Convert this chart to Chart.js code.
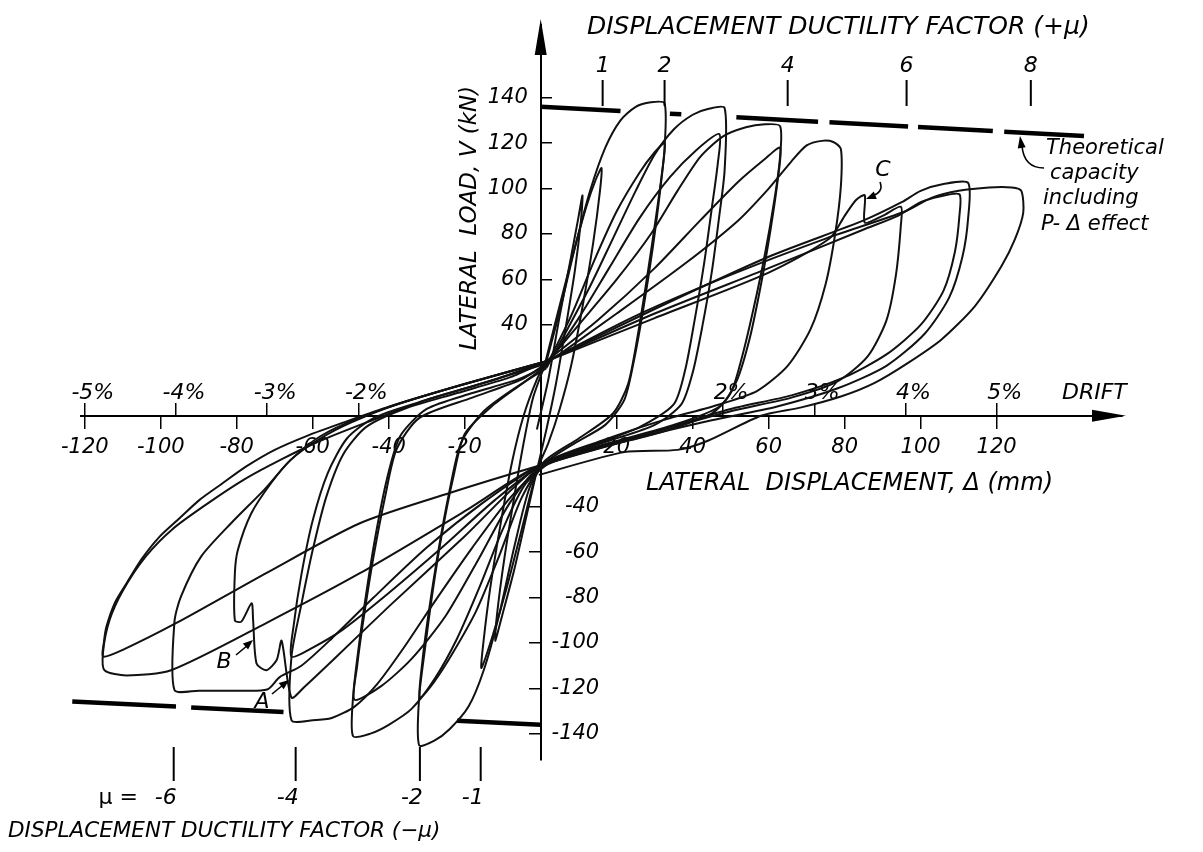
<!DOCTYPE html>
<html lang="en">
<head>
<meta charset="UTF-8">
<title>Lateral load - displacement hysteresis</title>
<script src="https://cdn.jsdelivr.net/npm/chart.js"></script>
<style>
  html, body { margin: 0; padding: 0; background: #fff; }
  #wrap { width: 1203px; height: 852px; position: relative; }
</style>
</head>
<body>
<div id="wrap"><canvas id="chart"></canvas></div>
<script>
// axis ticks (mm and kN)
const dispTicks = [-120, -100, -80, -60, -40, -20, 20, 40, 60, 80, 100, 120];
const loadTicksPos = [40, 60, 80, 100, 120, 140];
const loadTicksNeg = [-40, -60, -80, -100, -120, -140];
const driftTicks = [-120, -96, -72, -48, 48, 72, 96, 120];
const driftLabels = ['-5%', '-4%', '-3%', '-2%', '2%', '3%', '4%', '5%'];

// displacement ductility markers (label, position in mm)
const ductTop = ['1', '2', '4', '6', '8'];
const ductTopMm = [16.3, 32.6, 65, 96.3, 129];
const ductBottom = ['-6', '-4', '-2', '-1'];
const ductBottomMm = [-96.6, -64.5, -31.8, -15.8];

// theoretical capacity incl. P-delta (pairs of dash ends)
const theoryPos = [[0,136],[21,134.1],[34,132.9],[37,132.7],[51.5,131.4],[73,129.4],[76,129.2],[96.7,127.3],[99.3,127.1],[119,125.3],[122,125],[143,123.1]];
const theoryNeg = [[0,-136],[-22,-134.2],[-67.7,-130.4],[-92,-128.4],[-96,-128],[-123.3,-125.8]];

// load cycles [displacement mm, load kN]
const loop1 = [[-1,-6],[2,16],[5,44],[8,70],[10,88],[11,97],[10.6,86],[9,64],[6.5,38],[4,14],[1.5,-6],[-1,-24],[-4,-46],[-7,-68],[-10,-87],[-12,-99],[-11.4,-86],[-9.5,-62],[-7,-36],[-4.5,-12],[-2,8],[1,22]];
const loop2 = [[1,22],[4,42],[8,68],[12,92],[14.5,104],[16,109],[15.6,99],[13.8,76],[11,48],[8,22],[5,3],[2,-12],[-1,-24],[-5,-50],[-9,-76],[-12.5,-96],[-15.6,-111],[-15.1,-100],[-13.3,-76],[-10.5,-47],[-7.5,-20],[-4.5,0],[-1,16],[1.5,24]];
const loop3 = [[1.5,24],[5,46],[9,74],[13,99],[17,118],[21,130],[25,136],[29,138],[32.6,137.5],[32.6,118],[31.5,100],[29.5,74],[27,47],[24.5,24],[22,7],[17,-4],[9,-12],[1,-21],[-3,-32],[-7,-58],[-11,-88],[-15,-112],[-19,-128],[-24,-138],[-28,-143],[-32,-145],[-32,-124],[-30.5,-103],[-28.5,-78],[-26,-52],[-23,-27],[-20,-8],[-13,4],[-5,14],[1.5,22]];
const loop4 = [[1.5,22],[8,44],[14,68],[20,90],[26,107],[30,116],[32.6,120],[32,108],[30.3,87],[28,61],[25.5,35],[23,14],[19,1],[10,-10],[1,-20],[-5,-36],[-11,-62],[-17,-86],[-23,-104],[-28,-117],[-31.8,-124],[-31.2,-109],[-29.6,-88],[-27,-60],[-24,-33],[-21,-12],[-15,2],[-7,12],[1.5,21]];
const loop5 = [[1.5,21],[7,38],[13,57],[19,78],[25,99],[30,115],[35,126],[40,132.5],[44,135],[48.4,135.5],[48.4,108],[47,88],[45,63],[42.5,39],[40,19],[37,5],[30,-4],[18,-11],[4,-19],[-4,-30],[-10,-50],[-16,-75],[-22,-98],[-28,-116],[-34,-129],[-40,-136],[-45,-140],[-49.4,-141],[-49.4,-124],[-48,-103],[-46,-79],[-43.5,-53],[-40.5,-28],[-37,-9],[-30,3],[-18,10],[-6,16],[1.5,22]];
const loop6 = [[1.5,22],[10,43],[18,65],[26,87],[34,105],[41,117],[47,124],[46.6,111],[45,91],[43,67],[40.5,42],[38,20],[35,5],[26,-5],[12,-14],[0,-22],[-8,-38],[-16,-62],[-25,-88],[-34,-107],[-42,-119],[-49,-125],[-48.3,-110],[-46.5,-88],[-44,-62],[-41,-36],[-38,-15],[-32,-1],[-18,8],[-5,16],[1.5,23]];
const loop7 = [[1.5,23],[10,40],[20,60],[29,80],[36,99],[42,114],[48,123],[54,127],[59,128.3],[63,127.5],[63,114],[61.5,95],[59,71],[56,47],[53,26],[50,10],[45,1],[32,-7],[16,-14],[1,-22],[-8,-36],[-18,-58],[-28,-82],[-36,-102],[-43,-118],[-49,-128],[-55,-133],[-60,-134],[-65.6,-134],[-65.6,-106],[-63,-83],[-60,-59],[-56.5,-36],[-52,-17],[-46,-5],[-36,3],[-22,10],[-8,17],[1.5,24]];
const loop8 = [[1.5,24],[15,42],[30,65],[42,86],[52,103],[59,113],[63,118],[62.4,104],[60.5,82],[58,58],[55,34],[51.5,15],[47,4],[35,-4],[18,-12],[1,-21],[-12,-37],[-26,-58],[-40,-78],[-52,-94],[-60,-102],[-65.6,-106],[-65,-92],[-63,-70],[-60,-46],[-56,-25],[-51,-10],[-44,-1],[-32,6],[-16,14],[1.5,23]];
const loop9 = [[1.5,23],[20,45],[38,67],[52,86],[60,100],[66,112],[70,119],[74,121],[77,120.5],[79,117.5],[79,101],[77.5,80],[75,58],[71,38],[65,22],[57,11],[47,5],[32,-2],[16,-11],[-0.5,-22],[-20,-53],[-40,-84],[-55,-108],[-62,-119],[-65.6,-124],[-68.2,-99],[-69.5,-107.5],[-72.2,-112],[-74.8,-109],[-75.7,-90],[-76.1,-82.5],[-78.8,-90.6],[-80.5,-90],[-80.5,-69.3],[-79.7,-59],[-76.2,-43],[-71,-29.7],[-65.8,-19.4],[-58,-9],[-48,-1],[-34,7],[-18,15],[1.5,24]];
const loop10 = [[1.5,24],[30,43],[60,63],[76,78],[80,88],[83,95],[85.3,97],[85.3,85],[90,88],[94.8,92],[94.8,84],[93.5,62],[91,42],[86,26],[78,15],[66,8],[50,2],[30,-7],[12,-15],[-0.5,-22],[-15,-38],[-30,-58],[-44,-80],[-55,-98],[-63,-110],[-68.7,-115],[-72,-120.5],[-80,-121],[-90,-121],[-96.4,-120.7],[-96.4,-90.6],[-94.7,-79.6],[-89.4,-62],[-81.5,-47.3],[-72.8,-32.6],[-65.8,-19.4],[-58,-10],[-50,-3],[-38,5],[-20,14],[1.5,24]];
const loop11 = [[1.5,24],[30,47],[60,70],[85,86],[95,94],[100,99],[106,102],[112.5,102.5],[112.5,87],[111,70],[107.5,52],[101,36],[91,22],[78,12],[62,4],[45,-2],[25,-10],[-0.5,-22],[-24,-34],[-47.6,-47.3],[-72,-69],[-96,-91.3],[-110,-103],[-115.2,-106],[-115,-100],[-114.3,-92.8],[-112,-82],[-109,-73.7],[-105,-63],[-100.3,-53.2],[-95,-45],[-89.8,-37],[-84,-30],[-77.5,-22.3],[-70,-15],[-61,-8.5],[-52,-3],[-40,4],[-22,13],[1.5,24]];
const loop12 = [[1.5,24],[30,45],[60,65],[85,82],[94,88],[100,94],[105,96.5],[110.2,97.5],[110.2,88],[109,72],[106,55],[100,40],[91,27],[80,17],[66,9],[50,3],[28,-8],[-0.5,-22],[-20,-42],[-47.6,-69.3],[-72,-91],[-97.3,-112],[-109,-114.3],[-114.8,-112],[-115.2,-104],[-113.5,-90],[-110,-77],[-104,-62],[-97,-50],[-88,-39],[-78,-28],[-68,-19],[-58,-11],[-46,-3],[-30,7],[-12,16],[1.5,24]];
const loop13 = [[1.5,24],[25,44],[50,62],[75,78],[96,90],[103,96],[110,99],[118,100.5],[124,100.5],[126.5,99],[127,89.3],[124.8,77.6],[121.3,65.9],[114.3,48.3],[105.5,33.6],[96.7,23.3],[87.9,14.5],[79.2,8.6],[68.6,3.7],[58,0],[44,-11],[36,-15],[22,-16],[-0.5,-26]];

const FONT = '"DejaVu Sans", sans-serif';
const loops = [loop1, loop2, loop3, loop4, loop5, loop6, loop7, loop8, loop9, loop10, loop11, loop12, loop13];
const toXY = arr => arr.map(p => ({ x: p[0], y: p[1] }));

const datasets = loops.map((l, i) => ({
  label: 'cycle ' + (i + 1),
  data: toXY(l),
  showLine: true,
  borderColor: '#111',
  borderWidth: 2,
  pointRadius: 0,
  tension: 0.25,
  clip: false
}));

// dashed theoretical capacity lines: every second segment is a gap
[theoryPos, theoryNeg].forEach((t, i) => {
  datasets.push({
    label: i ? 'theory -' : 'theory +',
    data: toXY(t),
    showLine: true,
    borderColor: '#000',
    borderWidth: 4.5,
    pointRadius: 0,
    tension: 0,
    clip: false,
    segment: { borderColor: ctx => (ctx.p0DataIndex % 2 ? 'rgba(0,0,0,0)' : '#000') }
  });
});

function put(ctx, s, x, y, size, align) {
  ctx.font = 'italic ' + size + 'px ' + FONT;
  ctx.textAlign = align || 'left';
  ctx.textBaseline = 'middle';
  ctx.fillText(s, x, y);
}

function arrowHead(ctx, x1, y1, x2, y2, len, half) {
  const a = Math.atan2(y2 - y1, x2 - x1);
  ctx.beginPath();
  ctx.moveTo(x2, y2);
  ctx.lineTo(x2 - len * Math.cos(a) + half * Math.sin(a), y2 - len * Math.sin(a) - half * Math.cos(a));
  ctx.lineTo(x2 - len * Math.cos(a) - half * Math.sin(a), y2 - len * Math.sin(a) + half * Math.cos(a));
  ctx.closePath();
  ctx.fill();
}

// texts, markers and arrows
const annotations = {
  id: 'annotations',
  afterDraw(chart) {
    const { ctx, chartArea, scales: { x, y } } = chart;
    const x0 = x.getPixelForValue(0);
    const y0 = y.getPixelForValue(0);
    ctx.save();
    ctx.fillStyle = '#000';
    ctx.strokeStyle = '#000';

    // axis arrows
    arrowHead(ctx, chartArea.right - 40, y0, chartArea.right + 4, y0, 34, 6);
    arrowHead(ctx, x0, chartArea.top + 40, x0, chartArea.top - 6, 36, 6);

    // ductility factor markers
    ctx.lineWidth = 2;
    ductTopMm.forEach((mm, i) => {
      const px = x.getPixelForValue(mm);
      ctx.beginPath(); ctx.moveTo(px, 80); ctx.lineTo(px, 106); ctx.stroke();
      put(ctx, ductTop[i], px, 66, 22, 'center');
    });
    ductBottomMm.forEach((mm, i) => {
      const px = x.getPixelForValue(mm);
      ctx.beginPath(); ctx.moveTo(px, 747); ctx.lineTo(px, 781); ctx.stroke();
      put(ctx, ductBottom[i], px - 8, 798, 22, 'center');
    });
    ctx.font = '22px ' + FONT;
    ctx.textAlign = 'right';
    ctx.fillText('\u03bc =', 138, 798);

    // titles
    put(ctx, 'DISPLACEMENT DUCTILITY FACTOR (+\u03bc)', 587, 27, 25);
    put(ctx, 'DISPLACEMENT DUCTILITY FACTOR (\u2212\u03bc)', 8, 831, 21.5);
    put(ctx, 'LATERAL  DISPLACEMENT, \u0394 (mm)', 646, 484, 24);
    put(ctx, 'DRIFT', 1062, 393, 22);
    ctx.save();
    ctx.translate(470, 218);
    ctx.rotate(-Math.PI / 2);
    put(ctx, 'LATERAL  LOAD, V (kN)', 0, 0, 23, 'center');
    ctx.restore();

    // theoretical capacity note
    put(ctx, 'Theoretical', 1046, 149, 21);
    put(ctx, 'capacity', 1050, 174, 21);
    put(ctx, 'including', 1043, 199, 21);
    put(ctx, 'P- \u0394 effect', 1041, 225, 21);
    ctx.lineWidth = 1.6;
    ctx.beginPath(); ctx.moveTo(1044, 168); ctx.quadraticCurveTo(1024, 168, 1022, 146); ctx.stroke();
    arrowHead(ctx, 1022, 150, 1020, 136, 12, 4);

    // C, B, A remarks
    put(ctx, 'C', 883, 170, 22, 'center');
    ctx.beginPath(); ctx.moveTo(880, 182); ctx.quadraticCurveTo(884, 192, 872, 196); ctx.stroke();
    arrowHead(ctx, 876, 195, 866, 199, 10, 4);
    put(ctx, 'B', 224, 662, 22, 'center');
    ctx.beginPath(); ctx.moveTo(236, 655); ctx.lineTo(248, 645); ctx.stroke();
    arrowHead(ctx, 238, 653, 253, 640, 10, 4);
    put(ctx, 'A', 262, 702, 22, 'center');
    ctx.beginPath(); ctx.moveTo(272, 694); ctx.lineTo(283, 685); ctx.stroke();
    arrowHead(ctx, 274, 692, 289, 680, 10, 4);

    ctx.restore();
  }
};

const tickFont = { family: FONT, size: 21, style: 'italic' };
const yRange = { min: -151.5, max: 172 };
const onlyTicks = list => (s => { s.ticks = list.map(v => ({ value: v })); });

// tick-mark axes (no labels) and label axes (no tick marks) for the load axis
function loadMarks(list, len, withBorder) {
  return {
    axis: 'y', type: 'linear', ...yRange, position: { x: 0 },
    afterBuildTicks: onlyTicks(list),
    grid: { drawOnChartArea: false, drawTicks: true, tickLength: len, color: '#000', lineWidth: 1.5 },
    border: { display: withBorder, color: '#000', width: 2 },
    ticks: { display: false, autoSkip: false }
  };
}
function loadLabels(list, atMm) {
  return {
    axis: 'y', type: 'linear', ...yRange, position: { x: atMm },
    afterBuildTicks: onlyTicks(list),
    grid: { drawOnChartArea: false, drawTicks: false },
    border: { display: false },
    ticks: { autoSkip: false, padding: 0, color: '#000', font: tickFont }
  };
}

new Chart(document.getElementById('chart'), {
  type: 'scatter',
  data: { datasets },
  options: {
    responsive: true,
    maintainAspectRatio: false,
    animation: false,
    devicePixelRatio: 1,
    layout: { padding: { left: 81, right: 81, top: 25, bottom: 92 } },
    plugins: { legend: { display: false }, tooltip: { enabled: false } },
    scales: {
      x: {
        type: 'linear', min: -121, max: 153, position: { y: 0 },
        afterBuildTicks: onlyTicks(dispTicks),
        grid: { drawOnChartArea: false, drawTicks: true, tickLength: 12, color: '#000', lineWidth: 1.5 },
        border: { display: true, color: '#000', width: 2 },
        ticks: { autoSkip: false, maxRotation: 0, padding: 7, color: '#000', font: tickFont }
      },
      xd: {
        axis: 'x', type: 'linear', min: -121, max: 153, position: { y: 0 },
        afterBuildTicks: onlyTicks(driftTicks),
        grid: { drawOnChartArea: false, drawTicks: true, tickLength: -13, color: '#000', lineWidth: 1.5 },
        border: { display: false },
        ticks: {
          autoSkip: false, maxRotation: 0, padding: -23, labelOffset: 8, color: '#000',
          font: { family: FONT, size: 22, style: 'italic' },
          callback: (v, i) => driftLabels[i]
        }
      },
      y: loadMarks(loadTicksPos, -12, true),
      yn: loadMarks(loadTicksNeg, 12, false),
      yl: loadLabels(loadTicksPos, -3.4),
      ynl: loadLabels(loadTicksNeg, 15.4)
    }
  },
  plugins: [annotations]
});
</script>
</body>
</html>
